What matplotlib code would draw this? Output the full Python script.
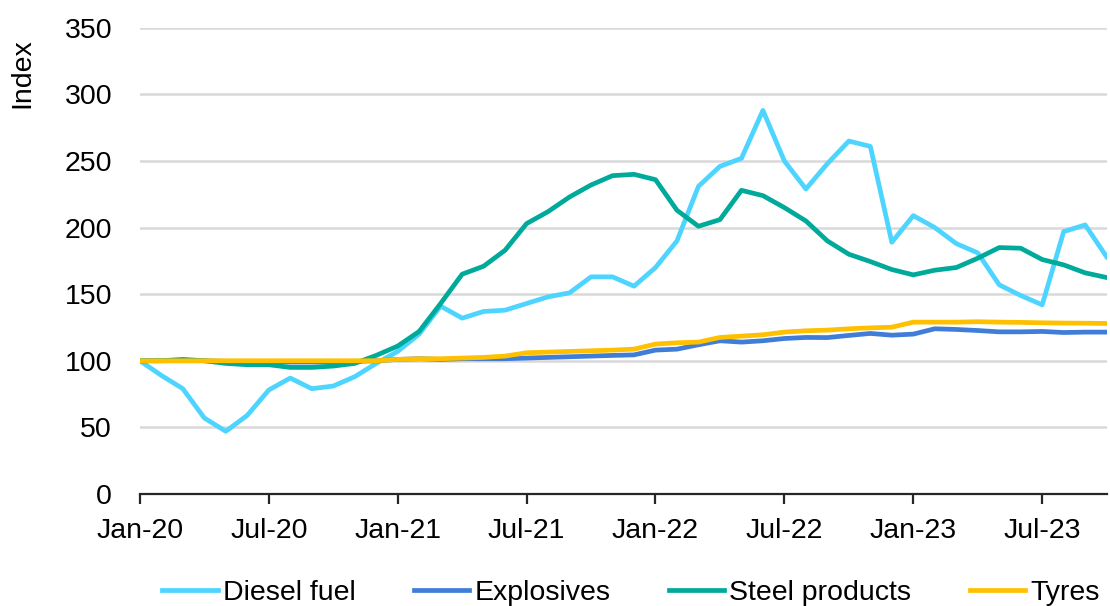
import numpy as np
import pandas as pd
from matplotlib import pyplot as plt

plt.rcParams['font.family'] = ['Liberation Sans', 'DejaVu Sans']

# monthly index, Jan-20 = 100
months = pd.date_range('2020-01-01', '2023-10-01', freq='MS').strftime('%b-%y').tolist()

diesel = [100, 89, 79, 57, 47, 59, 78, 87, 79, 81, 88, 98,
          107, 120, 141, 132, 137, 138, 143, 148, 151, 163, 163, 156,
          170, 190, 231, 246, 252, 288, 250, 229, 248, 265, 261, 189,
          209, 200, 188, 181, 157, 149, 142, 197, 202, 178]
explosives = [100, 100, 100, 100, 99.5, 99, 99, 99, 99, 99, 99.5, 100,
              101, 101.5, 101, 101.5, 101.5, 101.5, 102, 102.5, 103, 103.5, 104, 104.4,
              108, 108.7, 112, 115, 114, 115, 116.7, 117.5, 117.4, 119, 120.5, 119.2,
              120, 124, 123.5, 122.7, 121.7, 121.7, 122, 121.2, 121.5, 121.5]
steel = [100, 100, 101, 100, 98, 97, 97, 95, 95, 96, 98, 104,
         111, 122, 143, 165, 171, 183, 203, 212, 223, 232, 239, 240,
         236, 213, 201, 206, 228, 224, 215, 205, 190, 180, 174.5, 168.5,
         164.5, 168, 170, 177, 185, 184.5, 176, 172, 166, 162.5]
tyres = [100, 100, 100, 100, 100, 100, 100, 100, 100, 100, 100, 100,
         101, 101.5, 101.5, 102, 102.5, 103.5, 106, 106.5, 107, 107.5, 108, 108.7,
         112.5, 113.5, 114, 117.5, 118.5, 119.5, 121.5, 122.5, 123, 124, 124.7, 125.2,
         129, 129, 129, 129.3, 129, 128.8, 128.5, 128.3, 128.2, 128]

series = [('Diesel fuel', diesel, '#4DD4FF'),
          ('Explosives', explosives, '#3F7DD8'),
          ('Steel products', steel, '#00AA9A'),
          ('Tyres', tyres, '#FFC000')]

fs = 20.5

fig = plt.figure(figsize=(11.1, 6.06), dpi=100)
ax = fig.add_axes([0.126, 0.185, 0.871, 0.769])

x = np.arange(len(months))
for name, vals, col in series:
    ax.plot(x, vals, color=col, lw=3.4, label=name, solid_joinstyle='round')

ax.set_xlim(0, len(months) - 1)
ax.set_ylim(0, 350)
ax.set_yticks(range(0, 351, 50))
ax.set_xticks(x[::6])
ax.set_xticklabels(months[::6])
ax.yaxis.grid(True, color='#D9D9D9', lw=1.8)
ax.set_axisbelow(True)

for s in ['top', 'right', 'left']:
    ax.spines[s].set_visible(False)
ax.spines['bottom'].set_color('#262626')
ax.spines['bottom'].set_linewidth(1.6)
ax.spines['bottom'].set_zorder(5)

ax.tick_params(axis='y', length=0, pad=20, labelsize=fs)
ax.tick_params(axis='x', length=7, width=1.6, color='#262626', pad=10, labelsize=fs)

fig.text(0.02, 0.88, 'Index', rotation=90, fontsize=fs, ha='center', va='center')

fig.legend(loc='center left', bbox_to_anchor=(0.146, 0.022), ncol=4, frameon=False,
           fontsize=20.5, handlelength=1.95, handletextpad=0.18, columnspacing=2.05,
           borderpad=0, borderaxespad=0)

fig.savefig('out.png', dpi=100)
